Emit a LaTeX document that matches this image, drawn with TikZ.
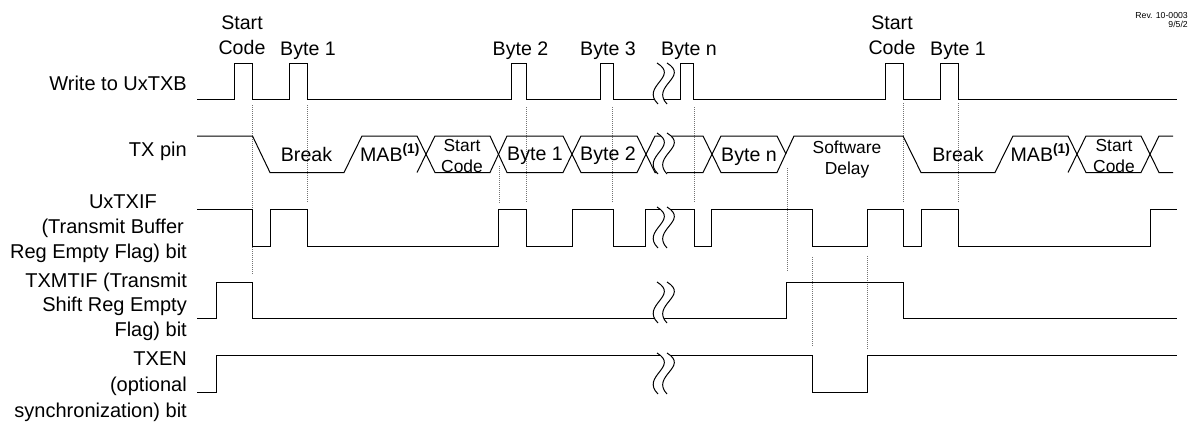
\documentclass[tikz,border=0pt]{standalone}
\usepackage{fontspec}
\setmainfont{Liberation Sans}
\usepackage{tikz}
\usetikzlibrary{positioning}

\tikzset{
    signal/.style={line width=1pt, black, line join=miter},
    guide/.style={line width=0.8pt, black!55, dash pattern=on 1pt off 1pt},
    wave/.style={line width=1pt, black},
    gapfill/.style={fill=white, draw=none},
    sig/.style={anchor=base, font=\fontsize{19.6}{22}\selectfont, inner sep=0pt},
    small/.style={anchor=base, font=\fontsize{17.4}{20}\selectfont, inner sep=0pt},
    rowname/.style={anchor=base east, font=\fontsize{20}{22}\selectfont, inner sep=0pt},
    rev/.style={anchor=base east, font=\fontsize{8.7}{10}\selectfont, inner sep=0pt}
}
\newcommand{\brk}[2]{% #1 top, #2 bottom of the break
    \fill[gapfill] (657,#1) .. controls (680,#1+14) and (640,#2-18) .. (658,#2) -- (667,#2)
        .. controls (650,#2-18) and (690,#1+14) .. (667,#1) -- cycle;
    \draw[wave] (657,#1) .. controls (680,#1+14) and (640,#2-18) .. (658,#2);
    \draw[wave] (667,#1) .. controls (690,#1+14) and (650,#2-18) .. (667,#2);
}

\begin{document}
\begin{tikzpicture}[x=1pt, y=-1pt]
    \useasboundingbox (0,0) rectangle (1188,421);

    % Guides
    \foreach \gx/\gtop/\gbot in {252.5/105/274, 307/105/203, 499/166/203, 526/107/203, 612.5/107/203,
        694.5/107/203, 787/168/271, 812/257/347, 867/256/349, 903/103/203, 958/103/203}
        \draw[guide] (\gx,\gtop) -- (\gx,\gbot);

    % Write to UxTXB
    \draw[signal] (197,99.5) -| (234,63) -| (252.5,99.5) -| (289,63) -| (307,99.5)
        -| (511,63) -| (526,99.5) -| (600,63) -| (613,99.5) -| (680,63) -| (693,99.5)
        -| (885,63) -| (903,99.5) -| (940,63) -| (958,99.5) -- (1177,99.5);

    % TX pin
    \draw[signal] (197,136) -- (252.5,136) -- (270,172.5) -- (344,172.5) -- (362,136) -- (417,136) -- (435,172.5) -- (490,172.5) -- (507,136) -- (563,136) -- (581,172.5) -- (637,172.5) -- (655,136) -- (665,136);
    \draw[signal] (417,172.5) -- (435,136) -- (490,136) -- (507,172.5) -- (563,172.5) -- (581,136) -- (637,136) -- (655,172.5) -- (665,172.5);
    \draw[signal] (667,136) -- (703,136) -- (721,172.5) -- (777,172.5) -- (794,136) -- (903,136) -- (921,172.5) -- (995,172.5) -- (1013,136) -- (1068,136) -- (1086,172.5) -- (1141,172.5) -- (1159,136) -- (1173,136);
    \draw[signal] (667,172.5) -- (703,172.5) -- (721,136) -- (777,136) -- (786,154);
    \draw[signal] (1068,172.5) -- (1086,136) -- (1141,136) -- (1159,172.5) -- (1173,172.5);

    % UxTXIF
    \draw[signal] (197,209) -| (252.5,246) -| (270,209) -| (307,246) -| (498,209) -| (526,246)
        -| (572,209) -| (613,246) -| (645,209) -| (694.5,246) -| (711.5,209) -| (812,246)
        -| (867,209) -| (903,246) -| (921,209) -| (958,246) -| (1150,209) -- (1177,209);

    % TXMTIF
    \draw[signal] (197,318) -| (216,282) -| (252.5,318) -| (786,282) -| (903,318) -- (1177,318);

    % TXEN
    \draw[signal] (197,392) -| (216,355) -| (812,392) -| (867,355) -- (1177,355);

    % Breaks
    \brk{63}{104}
    \brk{133}{174}
    \brk{207}{248}
    \brk{282}{323}
    \brk{353}{394}

    % Upper labels
    \node (start1) [sig] at (242,29) {Start};
    \node (code1) [sig] at (242,54) {Code};
    \node (byte1) [sig] at (308,55) {Byte 1};
    \node (byte2) [sig] at (520.5,55) {Byte 2};
    \node (byte3) [sig] at (608,55) {Byte 3};
    \node (byten) [sig] at (689,55) {Byte n};
    \node (start2) [sig] at (892,29) {Start};
    \node (code2) [sig] at (892,54) {Code};
    \node (byte4) [sig] at (958,55) {Byte 1};
    \node (rev1) [rev] at (1188,18) {Rev. 10-0003};
    \node (rev2) [rev] at (1188,27) {9/5/2};

    % Labels in the TX pin row
    \node (break1) [sig] at (306.5,161) {Break};
    \node (mab1) [sig] at (390,161) {MAB\textsuperscript{\textbf{(1)}}};
    \node (hstart1) [small] at (462,151) {Start};
    \node (hcode1) [small] at (462,172) {Code};
    \node (hbyte1) [sig] at (535,160) {Byte 1};
    \node (hbyte2) [sig] at (608,160) {Byte 2};
    \node (hbyten) [sig] at (749,161) {Byte n};
    \node (soft) [small] at (847,153) {Software};
    \node (delay) [small] at (847,174) {Delay};
    \node (break2) [sig] at (958,161) {Break};
    \node (mab2) [sig] at (1040.5,161) {MAB\textsuperscript{\textbf{(1)}}};
    \node (hstart2) [small] at (1114,151) {Start};
    \node (hcode2) [small] at (1114,172) {Code};

    % Row names
    \node (wname) [rowname] at (187,90) {Write to UxTXB};
    \node (tname) [rowname] at (187,156) {TX pin};
    \node (ifname1) [rowname] at (157,208) {UxTXIF};
    \node (ifname2) [rowname] at (184,233) {(Transmit Buffer};
    \node (ifname3) [rowname] at (187,258) {Reg Empty Flag) bit};
    \node (mtname1) [rowname] at (187,287) {TXMTIF (Transmit};
    \node (mtname2) [rowname] at (187,311) {Shift Reg Empty};
    \node (mtname3) [rowname] at (187,336) {Flag) bit};
    \node (enname1) [rowname] at (187,365) {TXEN};
    \node (enname2) [rowname] at (187,391) {(optional};
    \node (enname3) [rowname] at (187,417) {synchronization) bit};
\end{tikzpicture}
\end{document}
